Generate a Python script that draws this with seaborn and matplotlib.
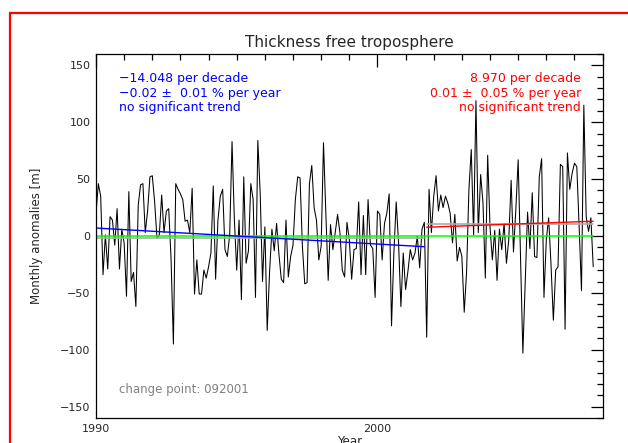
import numpy as np
import matplotlib
matplotlib.use("Agg")
import matplotlib.pyplot as plt
from matplotlib.lines import Line2D
from matplotlib.ticker import MultipleLocator
import seaborn as sns

# ---------------------------------------------------------------------
# data (monthly anomalies, Jan 1990 onwards)
# ---------------------------------------------------------------------
start_year = 1990
anomalies = [
    20, 46, 35, -34, 1, -29, 17, 14, -8, 24,
    -29, 6, -6, -53, 39, -40, -32, -62, 27, 45,
    46, 3, 22, 52, 53, 30, -2, 1, 36, 3,
    22, 24, -20, -95, 46, 41, 37, 32, 13, 14,
    3, 42, -51, -21,
    -51, -51, -30, -37, -27, -15, 44, -38, 14, 35,
    41, -12, -18, 1, 83, 14, -30, 14, -56, 52,
    -24, -13, 46, 32, -54, 84, 38, -40, 8, -83,
    -32, 6, -13, 11, -16, -38, -41, 14, -36, -18,
    -8, 32, 52, 51,
    -9, -42, -41, 46, 62, 25, 14, -21, -9, 82,
    20, -39, 10, -12, 3, 19, 3, -30, -36, 12,
    -3, -38, -12, -11, 30, -34, 18, -34, 32, -8,
    -11, -54, 22, 19, -21, 11, 20, 37, -79, -15,
    30, -6, -62, -15, -47,
    -31, -12, -21, -15, 0, -28, 6, 12, -89, 41,
    3, 35, 53, 22, 36, 25, 35, 29, 20, -6,
    19, -22, -10, -18, -67, -32, 41, 76, 1, 119,
    3, 54, 29, -37, 71, 8, -21, 5, -39, 6,
    -12, 11, -24, -3, 49,
    -14, 23, 67, -20, -103, -40, 21, -11, 38, -18,
    -19, 52, 68, -54, -3, 16, -25, -74, -30, -27,
    63, 61, -82, 73, 41, 55, 64, 61, 8, -48,
    115, 17, 4, 16, -27,
]
change_index = 140          # last month of first segment (09/2001)

blue_trend = [7.0, -9.4]    # start / end of first-segment trend
red_trend = [7.7, 13.0]     # start / end of second-segment trend
seg_means = [-1.5, 10.3]    # grey segment levels

blue_text = "\u221214.048 per decade\n\u22120.02 \u00b1  0.01 % per year\nno significant trend"
red_text = "8.970 per decade\n0.01 \u00b1  0.05 % per year\nno significant trend"

years = start_year + np.arange(len(anomalies)) / 12.0
t0, tc, tc2, t1 = years[0], years[change_index], years[change_index + 1], years[-1]

# ---------------------------------------------------------------------
# plot
# ---------------------------------------------------------------------
sns.set_style("white")
plt.rcParams["font.family"] = ["DejaVu Sans"]

W, H = 628, 443
fig = plt.figure(figsize=(W / 100, H / 100), dpi=100)
ax = fig.add_axes([96 / W, 1 - 418 / H, 506.6 / W, 364 / H])

sns.lineplot(x=years, y=anomalies, ax=ax, color="black", linewidth=0.75)
sns.lineplot(x=[t0, tc], y=[seg_means[0]] * 2, ax=ax, color="#aaaaaa", linewidth=1.2)
sns.lineplot(x=[tc2, t1], y=[seg_means[1]] * 2, ax=ax, color="#aaaaaa", linewidth=1.2)
sns.lineplot(x=[t0, t1], y=[0, 0], ax=ax, color="#00ff00", linewidth=1.1)
sns.lineplot(x=[t0, tc], y=blue_trend, ax=ax, color="#0000ff", linewidth=1.0)
sns.lineplot(x=[tc2, t1], y=red_trend, ax=ax, color="#ff0000", linewidth=1.0)

ax.set_xlim(1990, 2008)
ax.set_ylim(-160, 160)
ax.set_xticks([1990, 2000])
ax.xaxis.set_minor_locator(MultipleLocator(1))
ax.set_yticks([-150, -100, -50, 0, 50, 100, 150])
ax.yaxis.set_minor_locator(MultipleLocator(10))
ax.tick_params(which="both", direction="in", top=True, right=True,
               width=0.9, color="black", labelsize=8, pad=4)
ax.tick_params(which="major", length=9)
ax.tick_params(which="minor", length=4.5)
for sp in ax.spines.values():
    sp.set_color("black")
    sp.set_linewidth(0.9)

ax.set_ylabel("Monthly anomalies [m]", fontsize=8.5)
ax.yaxis.set_label_coords((43 - 96) / 506.6, 0.5)
ax.set_xlabel("Year", fontsize=8.5)
ax.xaxis.set_label_coords(0.5, -(435 - 418) / 364)

fig.text(349 / W, 1 - 43 / H, "Thickness free troposphere", ha="center",
         va="center", fontsize=11)
fig.text(119 / W, 1 - 72 / H, blue_text, color="#0000ff", ha="left",
         va="top", fontsize=9, linespacing=1.15)
fig.text(581 / W, 1 - 72 / H, red_text, color="#ff0000", ha="right",
         va="top", fontsize=9, linespacing=1.15, multialignment="right")
fig.text(119 / W, 1 - 390 / H, "change point: 092001", color="#808080",
         ha="left", va="center", fontsize=8.5)

# red page frame around the figure
fig.add_artist(Line2D([10 / W, 10 / W], [0, 1 - 12.5 / H], color="red", linewidth=1.6))
fig.add_artist(Line2D([10 / W, 1], [1 - 12.5 / H, 1 - 12.5 / H], color="red", linewidth=1.6))

fig.savefig("out.png", dpi=100)
